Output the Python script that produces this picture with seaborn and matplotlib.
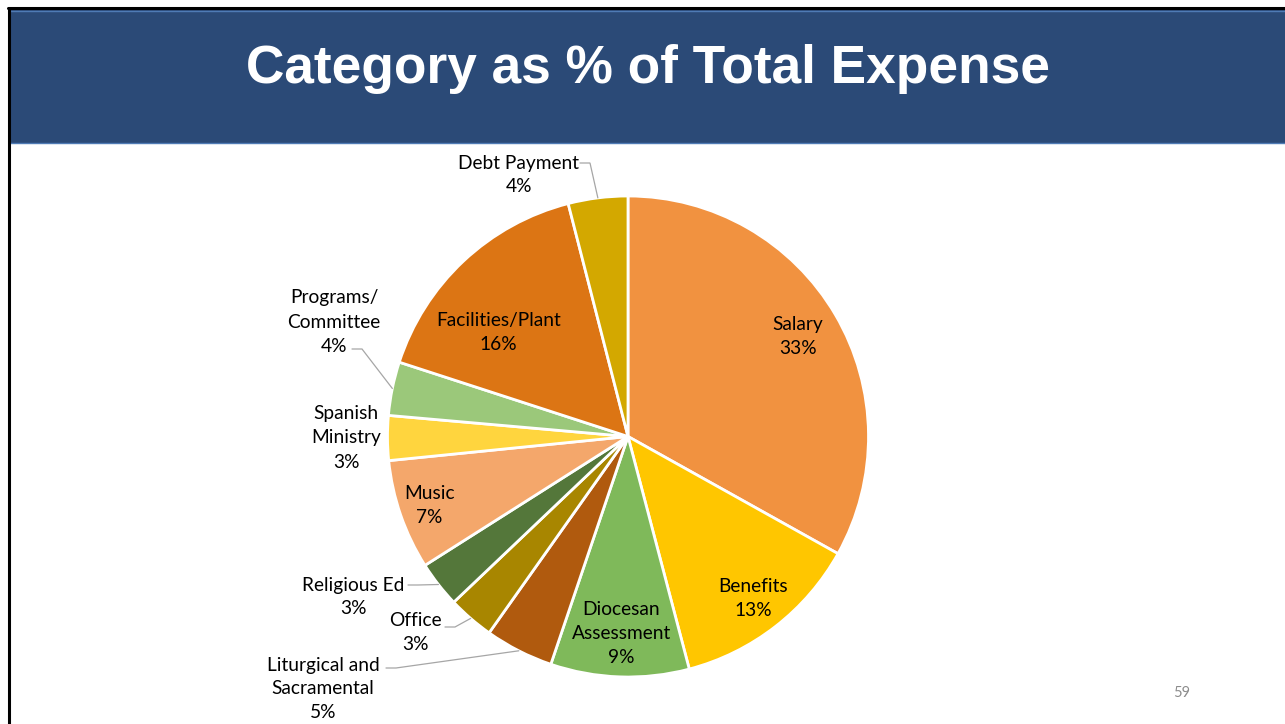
import matplotlib
matplotlib.use("Agg")
import matplotlib.pyplot as plt
from matplotlib.patches import Rectangle
import numpy as np
import seaborn as sns

# Expense categories, clockwise from 12 o'clock
categories = ["Salary", "Benefits", "Diocesan\nAssessment", "Liturgical and\nSacramental",
              "Office", "Religious Ed", "Music", "Spanish\nMinistry", "Programs/\nCommittee",
              "Facilities/Plant", "Debt Payment"]
shares = [33.1, 12.8, 9.3, 4.6, 3.1, 3.1, 7.4, 3.0, 3.6, 16.0, 4.0]
colors = ["#F19240", "#FFC600", "#7FB95A", "#B05A0E", "#A88600", "#54773A",
          "#F4A76B", "#FFD53E", "#9BC87A", "#DC7514", "#D3A800"]

# Which labels sit inside their slice; others are placed outside with a leader line
inside = [True, True, True, False, False, False, True, False, False, True, False]

sns.set_theme(style="white")
plt.rcParams["font.family"] = ["Lato", "DejaVu Sans"]

W, H = 1285, 724
fig = plt.figure(figsize=(W / 100, H / 100), dpi=100)
ax = fig.add_axes([0, 0, 1, 1])

# Header band and slide frame
ax.add_patch(Rectangle((10, H - 143), W - 10, 133, facecolor="#2B4A77",
                       edgecolor="none", zorder=1))
ax.plot([10, W], [H - 10.5, H - 10.5], color="#4F7BB5", lw=1, zorder=2)
ax.plot([10, W], [H - 142.5, H - 142.5], color="#4F7BB5", lw=1, zorder=2)
ax.plot([8, W], [H - 8, H - 8], color="black", lw=2.2, zorder=3)
ax.plot([8.5, 8.5], [0, H - 8], color="black", lw=2.2, zorder=3)
ax.text(648, H - 69, "Category as % of Total Expense", color="white",
        fontsize=38.3, fontweight="bold", family=["Liberation Sans", "DejaVu Sans"],
        ha="center", va="center", zorder=4)

cx, cy, R = 628, H - 436.5, 240.5
wedges, _ = ax.pie(shares, colors=colors, startangle=90, counterclock=False,
                   center=(cx, cy), radius=R, frame=True,
                   wedgeprops=dict(edgecolor="white", linewidth=2))
ax.set_xlim(0, W)
ax.set_ylim(0, H)
ax.axis("off")

# Label placement: inside labels at a fraction of the radius along a direction
# (degrees clockwise from 12 o'clock, default the slice bisector); outside labels
# at a text position with an elbow leader line to the slice edge
inside_frac = {0: 0.82, 1: 0.85, 2: 0.82, 6: 0.875, 9: 0.69}
inside_dir = {9: 308.7}
outside_text = {3: (323, 689), 4: (415, 632), 5: (353, 597),
                7: (346, 438), 8: (334, 322), 10: (519, 175)}
elbow = {3: ((386, 668), (396, 668)), 4: ((445, 627), (455, 627)),
         5: ((408, 585), (418, 585)), 8: ((352, 349), (362, 349)),
         10: ((580, 163), (590, 163))}

fs = 13.8
ls = 1.5
for i, (w, name, val) in enumerate(zip(wedges, categories, shares)):
    mid = np.deg2rad((w.theta1 + w.theta2) / 2)
    text = f"{name}\n{val:.0f}%"
    if inside[i]:
        f = inside_frac[i]
        d = np.deg2rad(90 - inside_dir[i]) if i in inside_dir else mid
        tx, ty = cx + f * R * np.cos(d), cy + f * R * np.sin(d)
        ax.text(tx, ty, text, ha="center", va="center", fontsize=fs,
                color="black", linespacing=ls, zorder=6)
    else:
        px, py = outside_text[i]
        ax.text(px, H - py, text, ha="center", va="center", fontsize=fs,
                color="black", linespacing=ls, zorder=6)
        if i in elbow:
            (x0, y0), (x1, y1) = elbow[i]
            ex, ey = cx + R * np.cos(mid), cy + R * np.sin(mid)
            ax.plot([x0, x1, ex], [H - y0, H - y1, ey], color="#A6A6A6",
                    lw=0.9, zorder=5, solid_joinstyle="miter")

ax.text(1182, H - 693, "59", color="#8C8C8C", fontsize=10.5, ha="center",
        va="center", zorder=6)

fig.savefig("out.png", dpi=100)
